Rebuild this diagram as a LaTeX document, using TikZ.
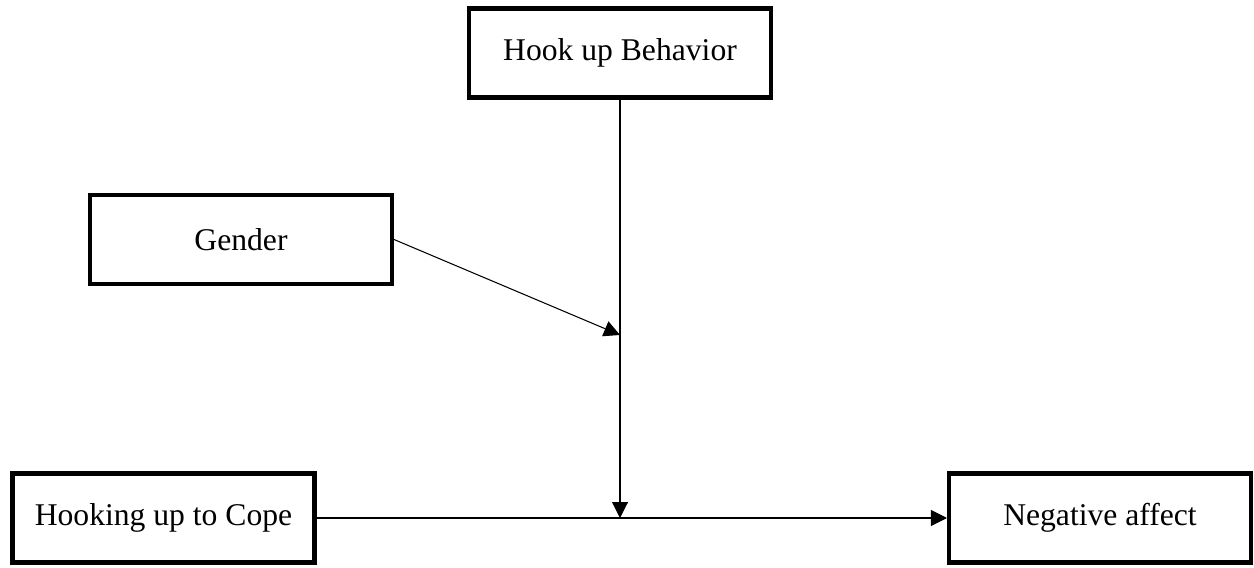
\documentclass[tikz,border=0pt]{standalone}
\usepackage{fontspec}
\setmainfont{Liberation Serif}
\usetikzlibrary{arrows.meta,positioning}

\begin{document}
\begin{tikzpicture}[
    var/.style   = {rectangle, draw=black, line width=2.3pt, fill=white,
                    minimum width=6.04cm, minimum height=1.78cm,
                    font=\fontsize{18}{22}\selectfont},
    arrow/.style = {-{Triangle[length=0.32cm,width=0.32cm]}, line width=0.6pt},
]
  \useasboundingbox (0,0) rectangle (25.08,11.34);

  \node[var] (hub)    at (12.40,10.28) {Hook up Behavior};
  \node[var] (gender) at (4.82,6.55)   {Gender};
  \node[var] (cope)   at (3.27,0.98)   {Hooking up to Cope};
  \node[var] (neg)    at (22.00,0.98)  {Negative affect};

  \coordinate (mod) at (hub.south |- 0,4.64);
  \coordinate (hit) at (hub.south |- cope.east);

  % main path
  \draw[arrow] (cope.east) -- (neg.west);

  % moderation
  \draw[arrow] (hub.south) -- (hit);
  \draw[arrow] (gender.east) -- (mod);

\end{tikzpicture}
\end{document}
